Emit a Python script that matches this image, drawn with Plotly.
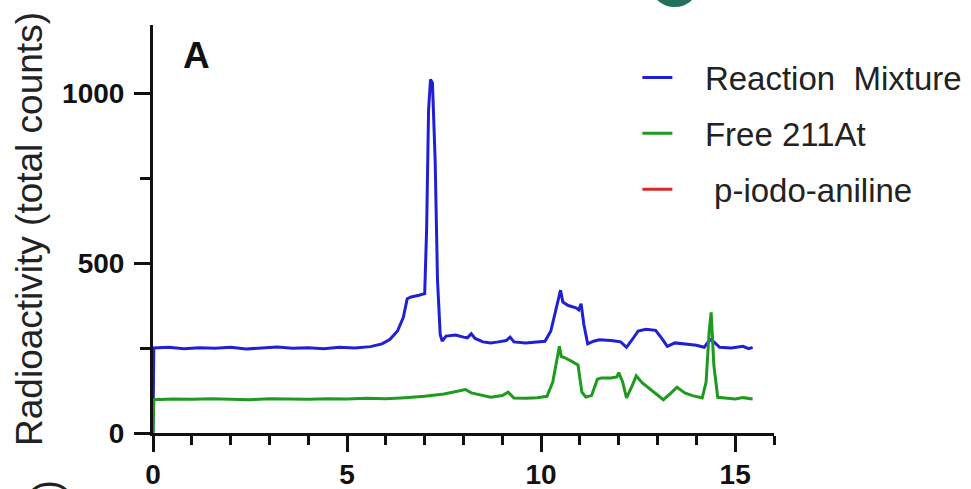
import plotly.graph_objects as go

# ---- data ----
blue_x = [0, 0.02, 0.4, 0.8, 1.2, 1.6, 2.0, 2.4, 2.8, 3.2,
          3.6, 4.0, 4.4, 4.8, 5.2, 5.6, 5.9, 6.1, 6.3, 6.45,
          6.55, 6.65, 6.85, 7.0, 7.05, 7.1, 7.15, 7.2, 7.27, 7.33,
          7.4, 7.45, 7.55, 7.8, 8.0, 8.1, 8.2, 8.3, 8.5, 8.7,
          8.9, 9.1, 9.2, 9.3, 9.6, 9.9, 10.1, 10.25, 10.38, 10.45,
          10.5, 10.56, 10.7, 10.9, 10.97, 11.03, 11.1, 11.2, 11.35, 11.5,
          11.8, 12.05, 12.2, 12.35, 12.5, 12.7, 12.95, 13.1, 13.25, 13.45,
          13.7, 14.0, 14.2, 14.35, 14.45, 14.6, 14.9, 15.2, 15.35, 15.45]
blue_y = [0, 250, 252, 248, 251, 249, 252, 247, 250, 253,
          249, 251, 248, 252, 250, 254, 262, 275, 300, 340,
          395, 400, 405, 410, 600, 950, 1040, 1030, 800, 450,
          290, 270, 285, 288, 282, 280, 292, 278, 268, 265,
          268, 272, 282, 268, 265, 267, 270, 300, 360, 395,
          420, 385, 375, 368, 362, 380, 320, 262, 270, 274,
          272, 268, 252, 275, 300, 305, 302, 280, 255, 265,
          262, 258, 252, 275, 268, 252, 250, 255, 248, 252]

green_x = [0, 0.02, 0.5, 1.0, 1.5, 2.0, 2.5, 3.0, 3.5, 4.0,
           4.5, 5.0, 5.5, 6.0, 6.5, 7.0, 7.5, 7.8, 8.05, 8.2,
           8.4, 8.7, 9.0, 9.15, 9.3, 9.6, 9.9, 10.15, 10.3, 10.4,
           10.47, 10.52, 10.6, 10.8, 10.95, 11.05, 11.15, 11.3, 11.45, 11.55,
           11.8, 11.95, 12.0, 12.1, 12.2, 12.35, 12.45, 12.6, 12.8, 13.0,
           13.15, 13.35, 13.5, 13.7, 13.9, 14.15, 14.25, 14.33, 14.38, 14.45,
           14.55, 14.8, 15.0, 15.2, 15.45]
green_y = [0, 98, 100, 99, 101, 100, 98, 101, 100, 99,
           101, 100, 102, 101, 104, 108, 115, 122, 128, 118,
           112, 105, 110, 120, 103, 102, 104, 108, 150, 215,
           255, 225, 222, 210, 200, 120, 106, 110, 158, 162,
           162, 165, 178, 150, 103, 140, 168, 148, 130, 110,
           98, 118, 135, 118, 110, 103, 150, 300, 355, 200,
           105, 102, 100, 104, 100]

series_names = ["Reaction  Mixture", "Free 211At", " p-iodo-aniline"]
x_ticks = [0, 5, 10, 15]
y_ticks = [0, 500, 1000]

FONT = "Liberation Sans, Arial, sans-serif"
BLUE = "#1f1fd6"
GREEN = "#1e9a1e"
RED = "#d42a2a"
PAD = "\u00a0\u00a0\u00a0"  # gap between legend line and text

fig = go.Figure()
fig.add_trace(go.Scatter(x=blue_x, y=blue_y, mode="lines", name=PAD + series_names[0],
                         legendgroup="a", line=dict(color=BLUE, width=3)))
fig.add_trace(go.Scatter(x=green_x, y=green_y, mode="lines", name=PAD + series_names[1],
                         legendgroup="b", line=dict(color=GREEN, width=3)))
fig.add_trace(go.Scatter(x=[None], y=[None], mode="lines", name=PAD + series_names[2],
                         legendgroup="c", line=dict(color=RED, width=3)))

fig.update_layout(
    width=971, height=489,
    margin=dict(l=153, r=197, t=25, b=56, autoexpand=False),
    paper_bgcolor="white", plot_bgcolor="white",
    font=dict(family=FONT, color="#222"),
    showlegend=True,
    legend=dict(x=0.78, y=0.94, xanchor="left", yanchor="top",
                font=dict(family=FONT, size=33, color="#222"),
                tracegroupgap=10, bgcolor="rgba(0,0,0,0)"),
    xaxis=dict(range=[0, 16], tickvals=x_ticks, ticks="outside", ticklen=16, tickwidth=3,
               tickcolor="#111", showline=True, linecolor="#111", linewidth=3,
               showgrid=False, zeroline=False, automargin=False, ticklabelstandoff=-2,
               tickfont=dict(family=FONT, size=28, color="#111", weight="bold"),
               minor=dict(dtick=1, ticks="outside", ticklen=9, tickwidth=3, tickcolor="#111")),
    yaxis=dict(range=[0, 1200], tickvals=y_ticks, ticks="outside", ticklen=16, tickwidth=3,
               tickcolor="#111", showline=True, linecolor="#111", linewidth=3,
               showgrid=False, zeroline=False, automargin=False, ticklabelstandoff=4,
               tickfont=dict(family=FONT, size=28, color="#111", weight="bold"),
               minor=dict(dtick=250, ticks="outside", ticklen=10, tickwidth=3, tickcolor="#111"),
               title=dict(text="Radioactivity (total counts)",
                          font=dict(family=FONT, size=37, color="#222"), standoff=9)),
)

fig.add_annotation(text="<b>A</b>", xref="paper", yref="paper", x=0.045, y=0.926,
                   xanchor="left", yanchor="middle", showarrow=False,
                   font=dict(family=FONT, size=37, color="#111"))
fig.add_annotation(text=")", xref="paper", yref="paper", x=-0.172, y=-0.13,
                   xanchor="center", yanchor="middle",
                   textangle=-90, showarrow=False,
                   font=dict(family=FONT, size=36, color="#222"))
# decorative badge partially visible at the top edge
fig.add_shape(type="circle", xref="paper", yref="paper",
              x0=0.802, x1=0.878, y0=1.044, y1=1.15,
              fillcolor="#22705a", line=dict(width=0), layer="above")

fig.write_html("out.html", config={"displayModeBar": False},
               post_script="document.body.style.margin='0';")
